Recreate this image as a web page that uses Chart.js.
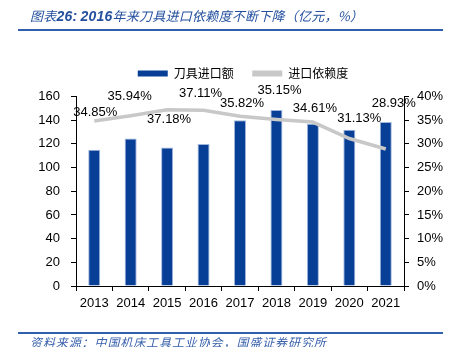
<!DOCTYPE html>
<html>
<head>
<meta charset="utf-8">
<script src="https://cdn.jsdelivr.net/npm/chart.js@4.4.0/dist/chart.umd.min.js"></script>
<style>
  body { margin: 0; background: #fff; }
  #wrap { position: relative; width: 450px; height: 347px; overflow: hidden; }
  #chart { position: absolute; left: 0; top: 0; }
  .head {
    position: absolute; left: 30px; top: 6px; white-space: nowrap;
    font: italic 13px "Noto Sans CJK SC", sans-serif; color: #24509e; letter-spacing: 0.25px;
  }
  .head b { font-family: "Liberation Sans", sans-serif; font-size: 14px; letter-spacing: 0.2px; }
  .rule { position: absolute; left: 18px; width: 425px; height: 2px; background: #2f5fad; }
  .foot {
    position: absolute; left: 30px; top: 333px; white-space: nowrap;
    font: italic 12px "Noto Sans CJK SC", sans-serif; color: #3a62ad; letter-spacing: 0.9px;
  }
</style>
</head>
<body>
<div id="wrap">
  <canvas id="chart" width="450" height="347"></canvas>
  <div class="head">图表<b>26:</b> <b>2016</b>年来刀具进口依赖度不断下降（亿元，%）</div>
  <div class="rule" style="top:29px"></div>
  <div class="rule" style="top:332px"></div>
  <div class="foot">资料来源：中国机床工具工业协会，国盛证券研究所</div>
</div>
<script>
var years = ["2013", "2014", "2015", "2016", "2017", "2018", "2019", "2020", "2021"];
var importValue = [115, 124.5, 117, 120, 140, 148.5, 137, 132, 138.5];   // 亿元
var dependence = [34.85, 35.94, 37.18, 37.11, 35.82, 35.15, 34.61, 31.13, 28.93]; // %

// where each percentage label sits relative to its point
var labelDx = [1, -1, 2, -3, 2, 3, 2, 10, 8];
var labelDy = [-8, -19, 10, -17, -13, -29, -14, -20, -46];

var tickFont = { family: "Liberation Sans", size: 13 };

var pointLabels = {
    id: "pointLabels",
    afterDatasetsDraw: function(chart){
        var ctx = chart.ctx;
        var meta = chart.getDatasetMeta(1);
        ctx.save();
        ctx.font = "13px 'Liberation Sans'";
        ctx.fillStyle = "#000";
        ctx.textAlign = "center";
        ctx.textBaseline = "middle";
        meta.data.forEach(function(pt, i){
            ctx.fillText(dependence[i].toFixed(2) + "%", pt.x + labelDx[i], pt.y + labelDy[i]);
        });
        ctx.restore();
    }
};

// a bit more room between the legend and the plot
var legendGap = {
    id: "legendGap",
    afterInit: function(chart){
        var lg = chart.legend;
        if(!lg) return;
        var fit = lg.fit;
        lg.fit = function(){
            fit.call(this);
            this.height += 7;
        };
    }
};

var ctx = document.getElementById("chart").getContext("2d");
var myChart = new Chart(ctx, {
    type: "bar",
    data: {
        labels: years,
        datasets: [{
            label: "刀具进口额",
            data: importValue,
            yAxisID: "y",
            order: 1,
            backgroundColor: "#073f97",
            borderColor: "#9fb6dc",
            borderWidth: { left: 1, right: 1, top: 1, bottom: 0 },
            categoryPercentage: 1,
            barPercentage: 0.33
        }, {
            type: "line",
            label: "进口依赖度",
            data: dependence,
            yAxisID: "y1",
            order: 0,
            borderColor: "#c8c8c8",
            backgroundColor: "#c8c8c8",
            borderWidth: 3.5,
            pointRadius: 0,
            tension: 0
        }]
    },
    options: {
        responsive: false,
        animation: false,
        // left padding pushes the legend right; the y axis width makes up for it
        layout: { padding: { top: 49, left: 36, right: 0, bottom: 0 } },
        plugins: {
            tooltip: { enabled: false },
            legend: {
                position: "top",
                reverse: true,
                labels: {
                    font: { family: "Noto Sans CJK SC", size: 12 },
                    color: "#000",
                    boxWidth: 30,
                    boxHeight: 6,
                    padding: 18.5,
                    generateLabels: function(chart){
                        var items = Chart.defaults.plugins.legend.labels.generateLabels(chart);
                        items.forEach(function(it){ it.lineWidth = 0; });
                        return items;
                    }
                }
            }
        },
        scales: {
            x: {
                grid: { display: true, drawOnChartArea: false, tickLength: 5, color: "#000", offset: true },
                border: { color: "#000" },
                ticks: { font: tickFont, color: "#000", padding: 5, maxRotation: 0 },
                afterFit: function(s){ s.height = 61; }
            },
            y: {
                position: "left",
                min: 0, max: 160,
                grid: { drawOnChartArea: false, tickLength: 5, color: "#000" },
                border: { color: "#000" },
                ticks: { stepSize: 20, font: tickFont, color: "#000", padding: 11 },
                afterFit: function(s){ s.width = 40; }
            },
            y1: {
                position: "right",
                min: 0, max: 40,
                grid: { drawOnChartArea: false, tickLength: 5, color: "#000" },
                border: { color: "#000" },
                ticks: {
                    stepSize: 5, font: tickFont, color: "#000", padding: 8,
                    callback: function(v){ return v + "%"; }
                },
                afterFit: function(s){ s.width = 46; }
            }
        }
    },
    plugins: [pointLabels, legendGap]
});
</script>
</body>
</html>
